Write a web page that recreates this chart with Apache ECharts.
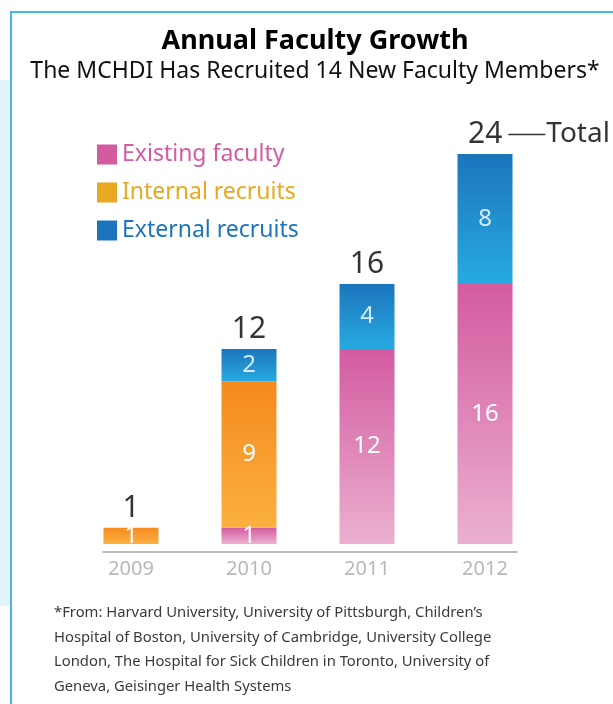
<!DOCTYPE html>
<html>
<head>
<meta charset="utf-8">
<script src="https://cdn.jsdelivr.net/npm/echarts@6/dist/echarts.min.js"></script>
<style>
html,body{margin:0;padding:0;background:#fff;}
#c{width:613px;height:704px;}
</style>
</head>
<body>
<div id="c"></div>
<script>
// ---- data ----
const years = ['2009', '2010', '2011', '2012'];
const existingFaculty = [0, 1, 12, 16];
const internalRecruits = [1, 9, 0, 0];
const externalRecruits = [0, 2, 4, 8];
const seriesNames = ['Existing faculty', 'Internal recruits', 'External recruits'];
const titleText = 'Annual Faculty Growth';
const subtitleText = 'The MCHDI Has Recruited 14 New Faculty Members*';
const footnoteText = '*From: Harvard University, University of Pittsburgh, Children\u2019s\nHospital of Boston, University of Cambridge, University College\nLondon, The Hospital for Sick Children in Toronto, University of\nGeneva, Geisinger Health Systems';

const FONT = '"Noto Sans", sans-serif';
const totals = years.map((_, i) => existingFaculty[i] + internalRecruits[i] + externalRecruits[i]);

function grad(top, bottom) {
  return new echarts.graphic.LinearGradient(0, 0, 0, 1, [
    { offset: 0, color: top }, { offset: 1, color: bottom }
  ]);
}
const legendColors = ['#d35ba0', '#e8a822', '#1c75bc'];
const barFills = [grad('#d35ba0', '#ebb0d0'), grad('#f58a1f', '#fbb040'), grad('#1c75bc', '#27aae1')];
const labelColors = ['#ffffff', '#ffffff', '#d4eaf7'];
const values = [existingFaculty, internalRecruits, externalRecruits];

const barSeries = seriesNames.map((name, s) => ({
  name: name,
  type: 'bar',
  stack: 'total',
  barWidth: 55,
  xAxisIndex: 0,
  yAxisIndex: 0,
  itemStyle: { color: barFills[s] },
  label: {
    show: true,
    position: 'inside',
    fontFamily: FONT,
    fontSize: 24,
    color: labelColors[s],
    formatter: p => (p.value ? String(p.value) : '')
  },
  data: values[s].slice()
}));

const totalSeries = {
  name: 'total',
  type: 'scatter',
  symbolSize: 1,
  xAxisIndex: 0,
  yAxisIndex: 0,
  itemStyle: { color: 'rgba(0,0,0,0)' },
  silent: true,
  label: {
    show: true,
    position: 'top',
    distance: 4,
    fontFamily: FONT,
    fontSize: 30,
    color: '#000',
    formatter: p => String(p.value)
  },
  data: totals.map((t, i) => {
    if (i === totals.length - 1) {
      return {
        value: t,
        label: {
          align: 'left',
          offset: [-17, 0],
          formatter: p => '{n|' + p.value + '}{s| }{g| }{t|Total}',
          rich: {
            n: { fontFamily: FONT, fontSize: 30, color: '#000' },
            s: { width: 6, fontSize: 28 },
            g: { width: 37, height: 1.5, backgroundColor: '#000', fontSize: 2 },
            t: { fontFamily: FONT, fontSize: 28, color: '#000', padding: [0, 0, 0, 1] }
          }
        }
      };
    }
    return { value: t };
  })
};

const chart = echarts.init(document.getElementById('c'), null, { renderer: 'canvas' });
chart.setOption({
  animation: false,
  backgroundColor: '#ffffff',
  title: [
    {
      text: titleText,
      subtext: subtitleText,
      left: 310,
      textAlign: 'center',
      top: 23,
      itemGap: 5,
      textStyle: { fontFamily: FONT, fontSize: 27, fontWeight: 'bold', color: '#000' },
      subtextStyle: { fontFamily: FONT, fontSize: 23, color: '#111' }
    },
    {
      text: footnoteText,
      left: 49,
      top: 596,
      textStyle: { fontFamily: FONT, fontSize: 14.8, fontWeight: 'normal', color: '#3a3a3a', lineHeight: 24.5 }
    }
  ],
  legend: {
    orient: 'vertical',
    left: 92,
    top: 138,
    itemWidth: 20,
    itemHeight: 20,
    itemGap: 15,
    icon: 'rect',
    selectedMode: false,
    data: seriesNames.map((n, i) => ({
      name: n,
      itemStyle: { color: legendColors[i] },
      textStyle: { color: legendColors[i], fontFamily: FONT, fontSize: 23, lineHeight: 20 }
    })),
    textStyle: { fontFamily: FONT, fontSize: 23, lineHeight: 20 }
  },
  grid: [
    { left: 72, right: 69, top: 154, bottom: 152, containLabel: false },
    { left: 103, right: 96, top: 154, bottom: 152, containLabel: false }
  ],
  xAxis: [
    {
      type: 'category',
      gridIndex: 0,
      data: years,
      axisLine: { show: false, onZero: false },
      axisTick: { show: false },
      splitLine: { show: false },
      axisLabel: { fontFamily: FONT, fontSize: 20, color: '#b8b8bc', margin: 7 }
    },
    {
      type: 'value',
      gridIndex: 1,
      min: 0,
      max: 1,
      axisLine: { show: true, onZero: false, lineStyle: { color: '#bcbcc0', width: 2 } },
      axisTick: { show: false },
      axisLabel: { show: false },
      splitLine: { show: false }
    }
  ],
  yAxis: [
    { type: 'value', gridIndex: 0, min: -0.5, max: 24, show: false, splitLine: { show: false } },
    { type: 'value', gridIndex: 1, min: -0.5, max: 24, show: false, splitLine: { show: false } }
  ],
  graphic: [
    { type: 'rect', shape: { x: 0, y: 80, width: 10, height: 526 }, style: { fill: '#e2f3fc' }, silent: true },
    { type: 'line', shape: { x1: 11, y1: 12, x2: 11, y2: 704 }, style: { stroke: '#45b9ec', lineWidth: 2 }, silent: true },
    { type: 'line', shape: { x1: 10, y1: 12, x2: 613, y2: 12 }, style: { stroke: '#45b9ec', lineWidth: 2 }, silent: true }
  ],
  series: barSeries.concat([totalSeries])
});
</script>
</body>
</html>
